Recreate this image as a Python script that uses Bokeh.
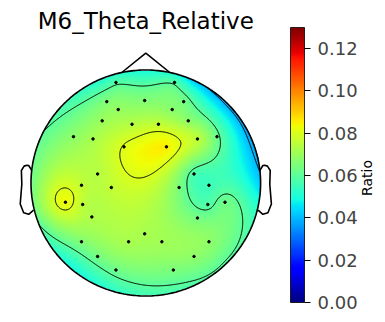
import numpy as np
from bokeh.plotting import figure
from bokeh.models import (ColorBar, LinearColorMapper, FixedTicker,
                          PrintfTickFormatter, Label, Range1d)
from bokeh.embed import file_html
from bokeh.resources import INLINE

# ---------------- data ----------------
TITLE = "M6_Theta_Relative"
CBAR_LABEL = "Ratio"
CBAR_TICKS = [0.00, 0.02, 0.04, 0.06, 0.08, 0.10, 0.12]
VMIN, VMAX = 0.0, 0.13
CONTOUR_LEVELS = [0.04, 0.06, 0.08]

# electrode positions (head radius = 1) and values
ELEC_X = [-0.26, 0.25, -0.34, -0.01, 0.33, -0.24, 0.23, -0.38, -0.12, 0.11,
          0.37, -0.63, -0.46, 0.45, 0.62, -0.19, 0.18, -0.42, 0.42, -0.56,
          -0.30, 0.29, 0.55, -0.70, -0.55, 0.54, 0.69, -0.47, 0.45, -0.01,
          -0.56, -0.15, 0.14, 0.55, -0.42, 0.42, -0.26, 0.24]
ELEC_Y = [0.89, 0.89, 0.72, 0.73, 0.72, 0.65, 0.65, 0.55, 0.52, 0.52,
          0.55, 0.41, 0.39, 0.39, 0.41, 0.32, 0.32, 0.08, 0.08, -0.02,
          -0.04, -0.04, -0.02, -0.17, -0.19, -0.19, -0.17, -0.30, -0.31, -0.45,
          -0.52, -0.52, -0.52, -0.52, -0.65, -0.65, -0.77, -0.77]
ELEC_V = [0.0585, 0.0585, 0.066, 0.066, 0.064, 0.069, 0.067, 0.070, 0.074, 0.076,
          0.068, 0.068, 0.072, 0.075, 0.062, 0.0805, 0.085, 0.074, 0.057, 0.076,
          0.076, 0.065, 0.055, 0.083, 0.075, 0.058, 0.063, 0.073, 0.064, 0.072,
          0.066, 0.072, 0.071, 0.068, 0.064, 0.068, 0.063, 0.065]

# extrapolated values along the head rim (angle in degrees, ccw from right)
EDGE_ANGLE = [0, 22.5, 45, 67.5, 90, 112.5, 135, 157.5,
              180, 202.5, 225, 247.5, 270, 292.5, 315, 337.5]
EDGE_V = [0.041, 0.036, 0.036, 0.041, 0.047, 0.049, 0.055, 0.060,
          0.062, 0.058, 0.048, 0.050, 0.055, 0.057, 0.058, 0.055]

# ---------------- colormap (jet) ----------------
def jet_palette(n=256):
    t = np.linspace(0, 1, n)
    r = np.interp(t, [0, 0.35, 0.66, 0.89, 1], [0, 0, 1, 1, 0.5])
    g = np.interp(t, [0, 0.125, 0.375, 0.64, 0.91, 1], [0, 0, 1, 1, 0, 0])
    b = np.interp(t, [0, 0.11, 0.34, 0.65, 1], [0.5, 1, 1, 0, 0])
    return ["#%02x%02x%02x" % (int(round(a * 255)), int(round(c * 255)), int(round(d * 255)))
            for a, c, d in zip(r, g, b)]

mapper = LinearColorMapper(palette=jet_palette(), low=VMIN, high=VMAX,
                           nan_color="rgba(0,0,0,0)")

# ---------------- interpolation (thin-plate spline) ----------------
ea = np.deg2rad(np.array(EDGE_ANGLE))
px = np.concatenate([np.array(ELEC_X), 1.02 * np.cos(ea)])
py = np.concatenate([np.array(ELEC_Y), 1.02 * np.sin(ea)])
pv = np.concatenate([np.array(ELEC_V), np.array(EDGE_V)])

def tps(r):
    with np.errstate(divide="ignore", invalid="ignore"):
        out = r * r * np.log(r)
    return np.where(r > 0, out, 0.0)

n = len(px)
D = np.hypot(px[:, None] - px[None, :], py[:, None] - py[None, :])
P = np.column_stack([np.ones(n), px, py])
A = np.zeros((n + 3, n + 3))
A[:n, :n] = tps(D)
A[:n, n:] = P
A[n:, :n] = P.T
rhs = np.concatenate([pv, np.zeros(3)])
coef = np.linalg.solve(A, rhs)

N = 301
g = np.linspace(-1, 1, N)
GX, GY = np.meshgrid(g, g)
Dg = np.hypot(GX[..., None] - px, GY[..., None] - py)
Z = tps(Dg) @ coef[:n] + coef[n] + coef[n + 1] * GX + coef[n + 2] * GY
Z = np.where(np.hypot(GX, GY) <= 1.0, Z, np.nan)

# ---------------- figure ----------------
p = figure(width=377, height=314, x_range=Range1d(-1.2657, 2.0183),
           y_range=Range1d(-1.1637, 1.615), min_border=0,
           toolbar_location=None, output_backend="svg",
           x_axis_location=None, y_axis_location=None)
p.outline_line_color = None
p.grid.visible = False

p.image(image=[Z], x=-1, y=-1, dw=2, dh=2, color_mapper=mapper)
p.contour(g, g, Z, levels=CONTOUR_LEVELS, line_color="black", line_width=1.0)

# head outline (MNE-style)
th = np.linspace(0, 2 * np.pi, 361)
p.line(np.cos(th), np.sin(th), line_color="black", line_width=1.6)
nd = np.deg2rad(12)
p.line([-nd, 0, nd], [np.sqrt(1 - nd ** 2), 1.15, np.sqrt(1 - nd ** 2)],
       line_color="black", line_width=1.6)
ear_x = np.array([.497, .510, .518, .5299, .5419, .54, .547, .532, .510, .489]) * 2
ear_y = np.array([.0555, .0775, .0783, .0746, .0555, -.0055, -.0932, -.1313, -.1384, -.1199]) * 2
p.line(ear_x, ear_y, line_color="black", line_width=1.6)
p.line(-ear_x, ear_y, line_color="black", line_width=1.6)

p.scatter(ELEC_X, ELEC_Y, size=2.5, color="black")

p.add_layout(Label(x=0, y=1.436, text=TITLE, text_align="center",
                   text_baseline="alphabetic", text_font="DejaVu Sans",
                   text_font_size="23px", text_color="black"))
p.add_layout(Label(x=1.931, y=0.044, text=CBAR_LABEL, angle=np.pi / 2,
                   text_align="center", text_baseline="middle",
                   text_font="DejaVu Sans", text_font_size="14px",
                   text_color="black"))

cb = ColorBar(color_mapper=mapper, orientation="vertical", location=(290, 12),
              width=14, height=275, padding=0, margin=0,
              ticker=FixedTicker(ticks=CBAR_TICKS),
              formatter=PrintfTickFormatter(format="%.2f"),
              major_label_text_font="DejaVu Sans",
              major_label_text_font_size="18px",
              major_tick_out=6, major_tick_in=0,
              major_tick_line_color="black", minor_tick_line_color=None,
              label_standoff=7, bar_line_color="black", bar_line_width=0.8,
              background_fill_alpha=0, border_line_color=None)
p.add_layout(cb)

open("out.html", "w").write(file_html(p, INLINE))
